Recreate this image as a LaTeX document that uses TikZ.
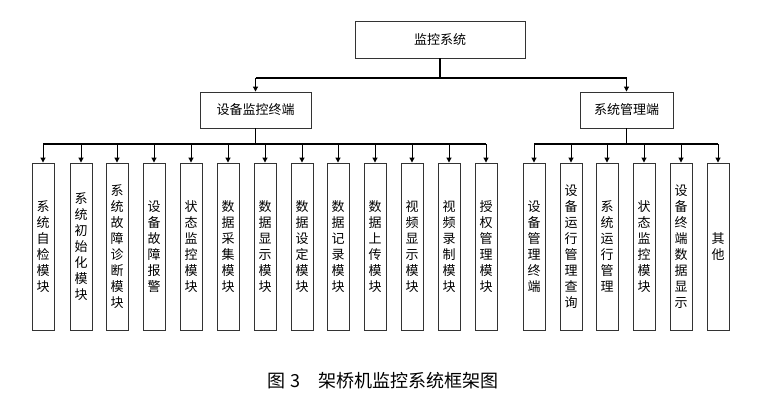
\documentclass[tikz,border=0pt]{standalone}
\usepackage{fontspec}
\setmainfont{Noto Sans CJK SC}
\usetikzlibrary{arrows.meta}
\begin{document}
\begin{tikzpicture}[x=1pt,y=-1pt,
  box/.style={draw=black!80,line width=0.9pt,inner sep=0pt,font=\fontsize{13}{13}\selectfont},
  leaf/.style={draw=black!80,line width=0.9pt,minimum width=22pt,minimum height=167pt,inner sep=0pt,align=center,font=\fontsize{13}{16}\selectfont},
  bus/.style={line width=1.4pt},
  arr/.style={line width=1pt,-{Triangle[length=5pt,width=5pt]}}]
\path[use as bounding box] (0,0) rectangle (766,407);
\node[box,minimum width=170pt,minimum height=37pt] (top) at (440,39.5) {监控系统};
\node[box,minimum width=111pt,minimum height=36pt] (ml) at (255.5,110) {设备监控终端};
\node[box,minimum width=93pt,minimum height=36pt] (mr) at (626.5,110) {系统管理端};
\draw[bus] (top.south) -- (440,78) coordinate (b0);
\draw[bus] (ml.north |- b0) -- (mr.north |- b0);
\draw[arr] (ml.north |- b0) -- (ml.north);
\draw[arr] (mr.north |- b0) -- (mr.north);
\foreach \x/\t [count=\i] in {43/系\\统\\自\\检\\模\\块, 81/系\\统\\初\\始\\化\\模\\块, 117/系\\统\\故\\障\\诊\\断\\模\\块, 154/设\\备\\故\\障\\报\\警, 191/状\\态\\监\\控\\模\\块, 228/数\\据\\采\\集\\模\\块, 265/数\\据\\显\\示\\模\\块, 302/数\\据\\设\\定\\模\\块, 338/数\\据\\记\\录\\模\\块, 375/数\\据\\上\\传\\模\\块, 412/视\\频\\显\\示\\模\\块, 449/视\\频\\录\\制\\模\\块, 486/授\\权\\管\\理\\模\\块}{
  \node[leaf] (L\i) at (\x,246.5) {\t};
  \draw[arr] (L\i.north |- 0,144) -- (L\i.north);
}
\draw[bus] (ml.south) -- (255.5,144);
\draw[bus] (L1.north |- 0,144) -- (L13.north |- 0,144);
\foreach \x/\t [count=\i] in {534/设\\备\\管\\理\\终\\端, 571/设\\备\\运\\行\\管\\理\\查\\询, 607/系\\统\\运\\行\\管\\理, 644/状\\态\\监\\控\\模\\块, 681/设\\备\\终\\端\\数\\据\\显\\示, 718/其\\他}{
  \node[leaf] (R\i) at (\x,246.5) {\t};
  \draw[arr] (R\i.north |- 0,144) -- (R\i.north);
}
\draw[bus] (mr.south) -- (626.5,144);
\draw[bus] (R1.north |- 0,144) -- (R6.north |- 0,144);
\node[font=\fontsize{18}{18}\selectfont] (cap) at (383,381) {图 3\quad 架桥机监控系统框架图};
\end{tikzpicture}
\end{document}
